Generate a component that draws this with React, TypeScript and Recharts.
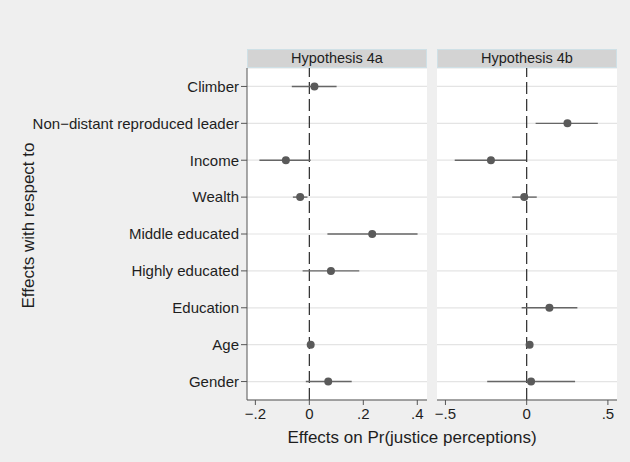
import React from 'react';
import {
  ScatterChart,
  Scatter,
  XAxis,
  YAxis,
  CartesianGrid,
  ReferenceLine,
  ErrorBar,
} from 'recharts';

// rows, top to bottom
const terms = [
  'Climber',
  'Non\u2212distant reproduced leader',
  'Income',
  'Wealth',
  'Middle educated',
  'Highly educated',
  'Education',
  'Age',
  'Gender',
];

// Hypothesis 4a: point estimate and 95% interval (null = not in model)
const est4a = [0.019, null, -0.087, -0.034, 0.233, 0.08, null, 0.005, 0.07];
const lo4a = [-0.065, null, -0.185, -0.061, 0.067, -0.025, null, -0.003, -0.013];
const hi4a = [0.101, null, 0.005, -0.007, 0.401, 0.185, null, 0.013, 0.157];

// Hypothesis 4b
const est4b = [null, 0.251, -0.22, -0.015, null, null, 0.14, 0.018, 0.027];
const lo4b = [null, 0.055, -0.443, -0.089, null, null, -0.031, 0.006, -0.243];
const hi4b = [null, 0.438, -0.004, 0.062, null, null, 0.312, 0.03, 0.298];

const ticks4a = [-0.2, 0, 0.2, 0.4];
const ticks4b = [-0.5, 0, 0.5];
const rowTicks = terms.map((_, i) => i + 1);

const FONT = '"Liberation Sans", Arial, Helvetica, sans-serif';
const BG = '#efefef';
const INK = '#1e1e1e';
const AXIS = '#555';
const MARK = '#5a5a5a';

type Row = { x: number; y: number; err: [number, number] };

function buildRows(est: (number | null)[], lo: (number | null)[], hi: (number | null)[]): Row[] {
  const rows: Row[] = [];
  est.forEach((v, i) => {
    if (v == null) return;
    rows.push({ x: v, y: i + 1, err: [v - (lo[i] as number), (hi[i] as number) - v] });
  });
  return rows;
}

// Stata style numbers: -.2, 0, .4
const fmt = (v: number) => {
  if (v === 0) return '0';
  const s = String(Math.abs(v)).replace(/^0/, '');
  return (v < 0 ? '\u2212' : '') + s;
};

const Dot = (props: any) => <circle cx={props.cx} cy={props.cy} r={4} fill={MARK} />;

interface PanelProps {
  rows: Row[];
  domain: [number, number];
  ticks: number[];
  width: number;
  left: number;
  showLabels: boolean;
}

function Panel({ rows, domain, ticks, width, left, showLabels }: PanelProps) {
  return (
    <ScatterChart
      width={width}
      height={462}
      margin={{ top: 68, right: 0, bottom: 32, left }}
    >
      <CartesianGrid vertical={false} stroke="#e4e4e4" strokeWidth={1.2} fill="#fff" />
      <XAxis
        type="number"
        dataKey="x"
        domain={domain}
        ticks={ticks}
        interval={0}
        allowDataOverflow
        tickFormatter={fmt}
        height={30}
        tickSize={5}
        tickMargin={3}
        stroke={AXIS}
        tick={{ fill: INK, fontSize: 15, fontFamily: FONT }}
      />
      <YAxis
        type="number"
        dataKey="y"
        domain={[0.5, 9.5]}
        ticks={rowTicks}
        reversed
        allowDataOverflow
        hide={!showLabels}
        width={247}
        interval={0}
        tickFormatter={(v: number) => terms[v - 1]}
        tickSize={6}
        tickMargin={2}
        stroke={AXIS}
        tick={{ fill: INK, fontSize: 15, fontFamily: FONT }}
      />
      <ReferenceLine x={0} stroke="#2a2a2a" strokeWidth={1.2} strokeDasharray="12 5" />
      <Scatter data={rows} shape={Dot} isAnimationActive={false}>
        <ErrorBar dataKey="err" direction="x" width={0} stroke="#666" strokeWidth={1.4} />
      </Scatter>
    </ScatterChart>
  );
}

function Strip({ left, width, text }: { left: number; width: number; text: string }) {
  return (
    <div
      style={{
        position: 'absolute',
        left,
        top: 49,
        width,
        height: 19,
        boxSizing: 'border-box',
        background: '#d3d3d3',
        border: '1px solid #cfe0e6',
        color: INK,
        fontSize: 14.5,
        lineHeight: '17px',
        textAlign: 'center',
      }}
    >
      {text}
    </div>
  );
}

export default function App() {
  const rows4a = buildRows(est4a, lo4a, hi4a);
  const rows4b = buildRows(est4b, lo4b, hi4b);

  return (
    <div
      style={{
        position: 'absolute',
        left: 0,
        top: 0,
        width: 630,
        height: 462,
        background: BG,
        fontFamily: FONT,
        overflow: 'hidden',
      }}
    >
      <div style={{ position: 'absolute', left: 0, top: 0 }}>
        <Panel rows={rows4a} domain={[-0.231, 0.436]} ticks={ticks4a} width={427} left={0} showLabels />
      </div>
      {/* second panel gets a left margin so its first tick label has room */}
      <div style={{ position: 'absolute', left: 417, top: 0 }}>
        <Panel rows={rows4b} domain={[-0.552, 0.556]} ticks={ticks4b} width={200} left={20} showLabels={false} />
      </div>
      <Strip left={247} width={180} text="Hypothesis 4a" />
      <Strip left={437} width={180} text="Hypothesis 4b" />

      <div
        style={{
          position: 'absolute',
          left: 262,
          top: 429,
          width: 300,
          fontSize: 17,
          lineHeight: '17px',
          textAlign: 'center',
          color: INK,
          whiteSpace: 'nowrap',
        }}
      >
        Effects on Pr(justice perceptions)
      </div>
      <div
        style={{
          position: 'absolute',
          left: 28 - 110,
          top: 226 - 9,
          width: 220,
          height: 17,
          fontSize: 17,
          lineHeight: '17px',
          textAlign: 'center',
          color: INK,
          whiteSpace: 'nowrap',
          transform: 'rotate(-90deg)',
        }}
      >
        Effects with respect to
      </div>
    </div>
  );
}
